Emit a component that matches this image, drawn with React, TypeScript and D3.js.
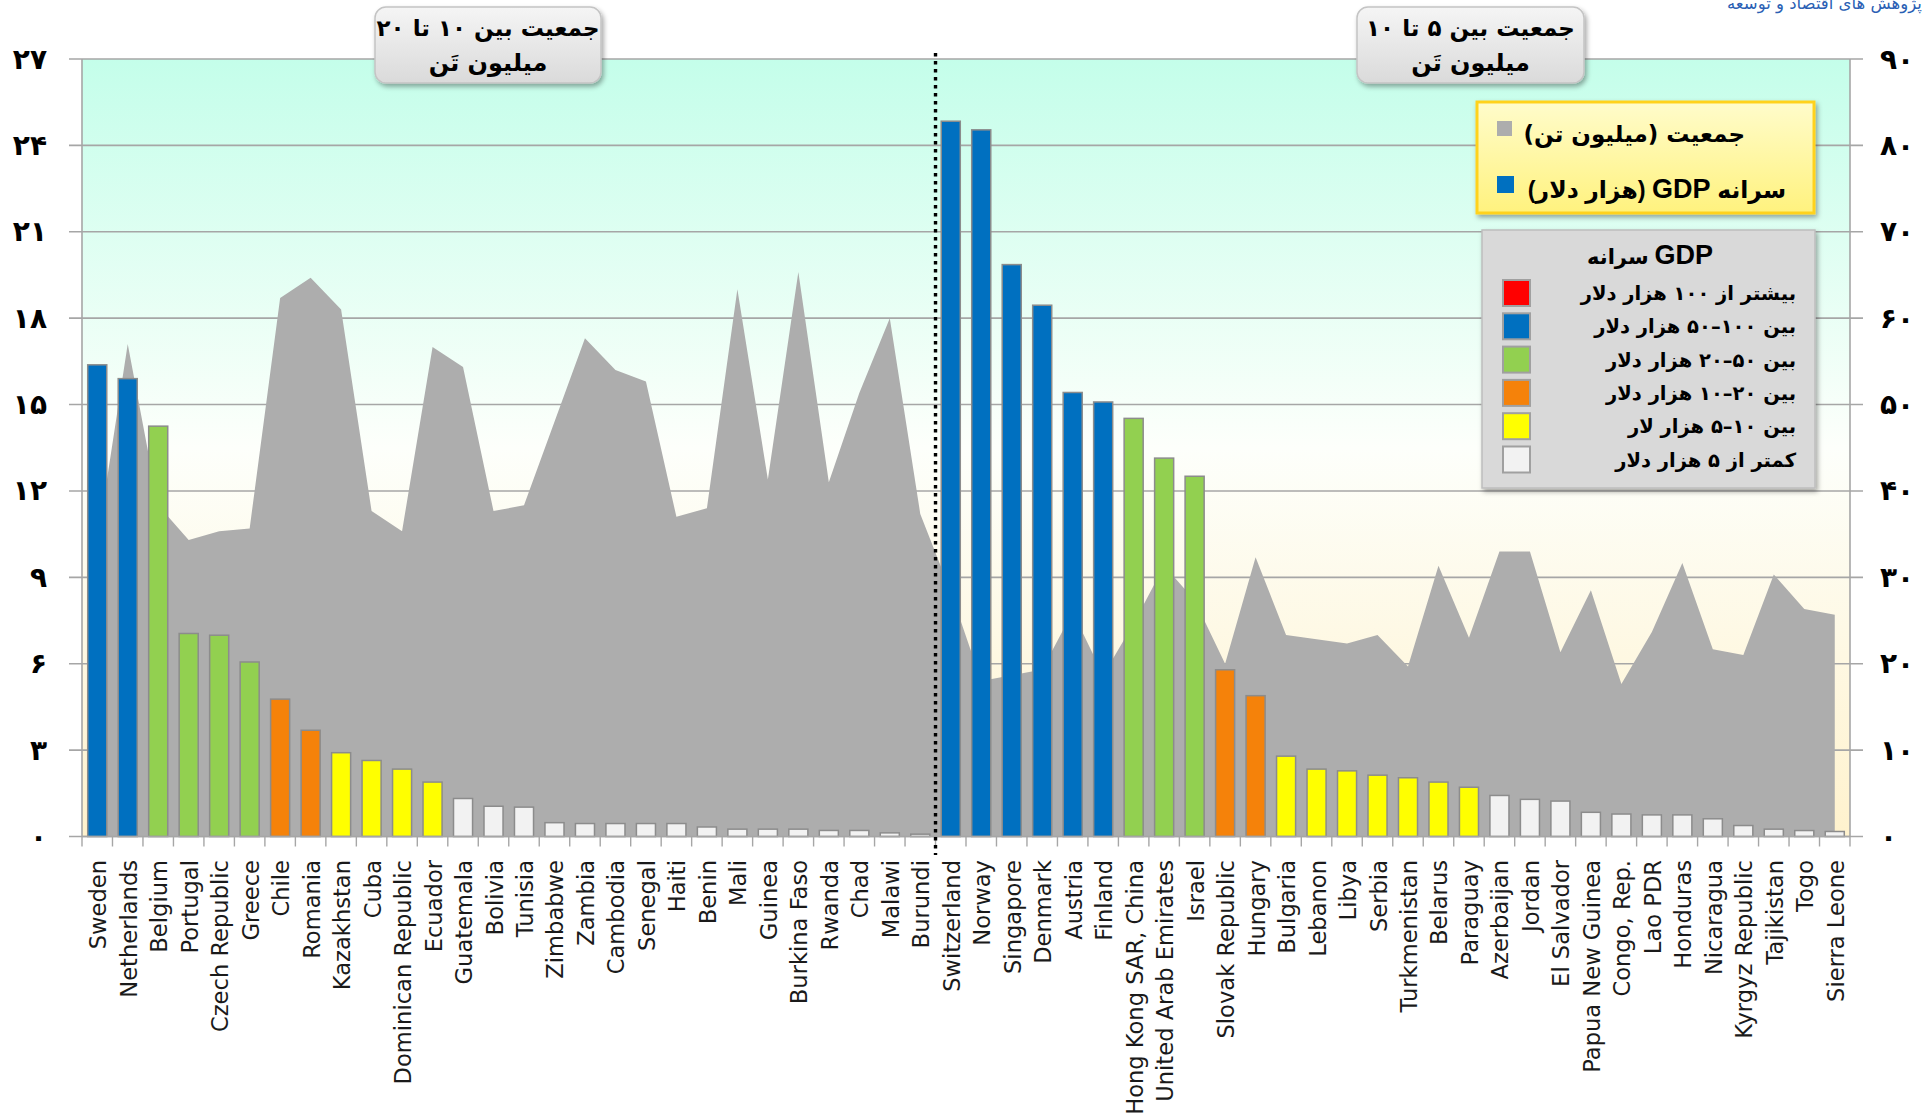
import React from "react";
import * as d3 from "d3";

const countries = ["Sweden","Netherlands","Belgium","Portugal","Czech Republic","Greece","Chile","Romania","Kazakhstan","Cuba","Dominican Republic","Ecuador","Guatemala","Bolivia","Tunisia","Zimbabwe","Zambia","Cambodia","Senegal","Haiti","Benin","Mali","Guinea","Burkina Faso","Rwanda","Chad","Malawi","Burundi","Switzerland","Norway","Singapore","Denmark","Austria","Finland","Hong Kong SAR, China","United Arab Emirates","Israel","Slovak Republic","Hungary","Bulgaria","Lebanon","Libya","Serbia","Turkmenistan","Belarus","Paraguay","Azerbaijan","Jordan","El Salvador","Papua New Guinea","Congo, Rep.","Lao PDR","Honduras","Nicaragua","Kyrgyz Republic","Tajikistan","Togo","Sierra Leone"];

// population, million (left axis)
const population = [10.2,17.1,11.5,10.3,10.6,10.7,18.7,19.4,18.3,11.3,10.6,17.0,16.3,11.3,11.5,14.4,17.3,16.2,15.8,11.1,11.4,19.0,12.4,19.6,12.3,15.4,18.0,11.2,
  8.5,5.4,5.6,5.8,7.8,5.6,7.4,9.4,8.2,6.0,9.7,7.0,6.85,6.7,7.0,5.9,9.4,6.9,9.9,9.9,6.4,8.55,5.3,7.1,9.5,6.5,6.3,9.1,7.9,7.7];

// GDP per capita, thousand USD (right axis)
const gdpPerCapita = [54.6,53.0,47.5,23.5,23.3,20.2,15.9,12.3,9.7,8.8,7.8,6.3,4.4,3.5,3.4,1.6,1.5,1.5,1.5,1.5,1.1,0.85,0.85,0.85,0.7,0.7,0.42,0.27,
  82.8,81.8,66.2,61.5,51.4,50.3,48.4,43.8,41.7,19.3,16.3,9.3,7.8,7.6,7.1,6.8,6.3,5.7,4.75,4.3,4.1,2.8,2.6,2.5,2.5,2.05,1.27,0.85,0.69,0.58];

const groupSizes = [28, 30];
const groupLabels = [["جمعیت بین ۱۰ تا ۲۰", "میلیون تَن"], ["جمعیت بین ۵ تا ۱۰", "میلیون تَن"]];

const leftTicks = [0, 3, 6, 9, 12, 15, 18, 21, 24, 27];
const rightTicks = [0, 10, 20, 30, 40, 50, 60, 70, 80, 90];

const gdpThresholds = [5, 10, 20, 50, 100];
const gdpColors = ["#F2F2F2", "#FFFF00", "#F5820A", "#92D050", "#0070C0", "#FF0000"];
const gdpLegendLabels = [
  "بیشتر از ۱۰۰ هزار دلار",
  "بین ۱۰۰–۵۰ هزار دلار",
  "بین ۵۰–۲۰ هزار دلار",
  "بین ۲۰–۱۰ هزار دلار",
  "بین ۱۰–۵ هزار لار",
  "کمتر از ۵ هزار دلار",
];
const gdpLegendColors = ["#FF0000", "#0070C0", "#92D050", "#F5820A", "#FFFF00", "#F2F2F2"];

const fa = (n: number) => String(n).replace(/\d/g, (d) => "۰۱۲۳۴۵۶۷۸۹"[+d]);

const W = 1927, H = 1114;
const L = 82, R = 1850, T = 59, B = 836.5;

export default function App() {
  const x = d3.scaleBand<string>().domain(countries).range([L, R]).paddingInner(0.375).paddingOuter(0.1875);
  const cx = (c: string) => (x(c) as number) + x.bandwidth() / 2;
  const yL = d3.scaleLinear().domain([0, 27]).range([B, T]);
  const yR = d3.scaleLinear().domain([0, 90]).range([B, T]);
  const color = d3.scaleThreshold<number, string>().domain(gdpThresholds).range(gdpColors);

  const area = d3.area<number>()
    .x((_, i) => cx(countries[i]))
    .y0(B)
    .y1((d) => yL(d))
    .curve(d3.curveLinear);

  const step = x.step();
  const dividerX = L + step * groupSizes[0];
  const faFont = "'DejaVu Sans', sans-serif";
  const mixFont = "'Liberation Sans', 'DejaVu Sans', sans-serif";

  return (
    <svg width={W} height={H} style={{ position: "absolute", left: 0, top: 0, background: "#fff" }}>
      <defs>
        <linearGradient id="bg" x1="0" y1="0" x2="0" y2="1">
          <stop offset="0" stopColor="#C4FEEA" />
          <stop offset="0.5" stopColor="#FDFFFB" />
          <stop offset="1" stopColor="#FFF2CD" />
        </linearGradient>
        <linearGradient id="boxg" x1="0" y1="0" x2="0" y2="1">
          <stop offset="0" stopColor="#F5F5F5" />
          <stop offset="1" stopColor="#DADADA" />
        </linearGradient>
        <linearGradient id="yel" x1="0" y1="0" x2="0" y2="1">
          <stop offset="0" stopColor="#FFFCCB" />
          <stop offset="1" stopColor="#FFF27E" />
        </linearGradient>
        <filter id="sh" x="-10%" y="-10%" width="130%" height="140%">
          <feDropShadow dx="2" dy="3" stdDeviation="2.5" floodColor="#000" floodOpacity="0.35" />
        </filter>
      </defs>

      {/* plot background */}
      <rect x={L} y={T} width={R - L} height={B - T} fill="url(#bg)" />

      {/* gridlines and ticks */}
      {leftTicks.map((t) => (
        <g key={"gl" + t}>
          <line x1={L - 13} x2={R + 13} y1={yL(t)} y2={yL(t)} stroke="#A6A6A6" strokeWidth={1.6} />
          <text x={47} y={yL(t)} textAnchor="end" dominantBaseline="central" fontFamily={faFont} fontWeight="bold" fontSize={28} fill="#000">{fa(t)}</text>
        </g>
      ))}
      {rightTicks.map((t) => (
        <text key={"gr" + t} x={1880} y={yR(t)} textAnchor="start" dominantBaseline="central" fontFamily={faFont} fontWeight="bold" fontSize={28} fill="#000">{fa(t)}</text>
      ))}

      {/* population area */}
      <path d={area(population) as string} fill="#ADADAD" />

      {/* GDP bars */}
      {countries.map((c, i) => (
        <rect key={c} x={x(c)} y={yR(gdpPerCapita[i])} width={x.bandwidth()} height={B - yR(gdpPerCapita[i])}
          fill={color(gdpPerCapita[i])} stroke="#8C8C8C" strokeWidth={1.5} />
      ))}

      {/* axes */}
      <line x1={L} x2={L} y1={T} y2={B} stroke="#A6A6A6" strokeWidth={1.6} />
      <line x1={R} x2={R} y1={T} y2={B} stroke="#A6A6A6" strokeWidth={1.6} />
      <line x1={L} x2={R} y1={B} y2={B} stroke="#A6A6A6" strokeWidth={1.6} />
      {d3.range(countries.length + 1).map((i) => (
        <line key={"xt" + i} x1={L + i * step} x2={L + i * step} y1={B} y2={B + 10} stroke="#A6A6A6" strokeWidth={1.4} />
      ))}

      {/* category labels */}
      {countries.map((c) => (
        <text key={"lbl" + c} transform={`translate(${cx(c) + 1},860) rotate(-90)`} textAnchor="end" dominantBaseline="central"
          fontFamily="'DejaVu Sans', sans-serif" fontSize={22.6} fill="#1a1a1a">{c}</text>
      ))}

      {/* divider */}
      <line x1={dividerX} x2={dividerX} y1={53} y2={855} stroke="#000" strokeWidth={3.4} strokeDasharray="3.4 4.6" />

      {/* group annotation boxes */}
      {[{ x0: 375, x1: 601 }, { x0: 1357, x1: 1584 }].map((b, gi) => (
        <g key={"gb" + gi}>
          <rect x={b.x0} y={7} width={b.x1 - b.x0} height={76} rx={11} fill="url(#boxg)" stroke="#C4C4C4" strokeWidth={1.5} filter="url(#sh)" />
          <text x={(b.x0 + b.x1) / 2} y={36} textAnchor="middle" direction="rtl" fontFamily={faFont} fontWeight="bold" fontSize={23} fill="#000">{groupLabels[gi][0]}</text>
          <text x={(b.x0 + b.x1) / 2} y={71} textAnchor="middle" direction="rtl" fontFamily={faFont} fontWeight="bold" fontSize={24} fill="#000">{groupLabels[gi][1]}</text>
        </g>
      ))}

      {/* source text, cut off at the page edge as in the original */}
      <text x={1727} y={9} textAnchor="start" fontFamily={faFont} fontSize={16.5} fill="#2A5FB4">پژوهش های اقتصاد و توسعه</text>

      {/* series legend */}
      <g>
        <rect x={1477} y={102} width={337} height={111} fill="url(#yel)" stroke="#FFD21F" strokeWidth={3} filter="url(#sh)" />
        <rect x={1497} y={121} width={15} height={15} fill="#ADADAD" />
        <text x={1745} y={142} textAnchor="start" direction="rtl" fontFamily={faFont} fontWeight="bold" fontSize={23} fill="#000">جمعیت (میلیون تن)</text>
        <rect x={1497} y={176} width={17} height={17} fill="#0070C0" />
        <text x={1786} y={198} textAnchor="start" direction="rtl" fontFamily={mixFont} fontWeight="bold" fontSize={23.5} fill="#000">
          <tspan>سرانه </tspan><tspan fontSize={27}>GDP</tspan><tspan> (هزار دلار)</tspan>
        </text>
      </g>

      {/* GDP colour legend */}
      <g>
        <rect x={1482} y={230} width={333} height={258} fill="#D9D9D9" stroke="#BDBDBD" strokeWidth={1.5} filter="url(#sh)" />
        <text x={1650} y={264} textAnchor="middle" direction="ltr" fontFamily={mixFont} fontWeight="bold" fontSize={21}>
          <tspan>سرانه  </tspan><tspan fontSize={27}>GDP</tspan>
        </text>
        {gdpLegendLabels.map((t, i) => (
          <g key={"lg" + i}>
            <rect x={1503} y={280 + i * 33.3} width={27} height={26} fill={gdpLegendColors[i]} stroke="#A0A0A0" strokeWidth={2} />
            <text x={1796} y={300 + i * 33.3} textAnchor="start" direction="rtl" fontFamily={faFont} fontWeight="bold" fontSize={19.5} fill="#000">{t}</text>
          </g>
        ))}
      </g>
    </svg>
  );
}
